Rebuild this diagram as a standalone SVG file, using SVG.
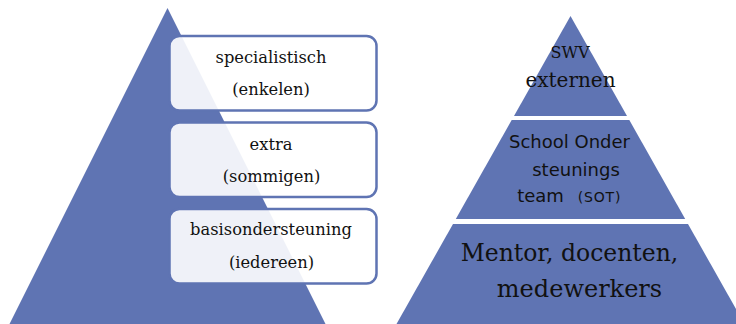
<svg xmlns="http://www.w3.org/2000/svg" width="736" height="324" viewBox="0 0 736 324">
<style>
.py{fill:#5f74b3}
.box{fill:#ffffff;fill-opacity:0.9;stroke:#5f74b3;stroke-width:2.5}
.t{font-family:"DejaVu Serif","Liberation Serif",serif;fill:#111;text-anchor:middle}
.s{font-family:"DejaVu Sans","Liberation Sans",sans-serif;fill:#111;text-anchor:middle}
</style>
<rect width="736" height="324" fill="#ffffff"/>
<g id="left-pyramid">
<polygon class="py" points="167.5,8 9.5,324 325.5,324"/>
</g>
<g id="connectors"></g>
<g id="box-specialistisch">
<rect class="box" x="169.5" y="36" width="207" height="74.5" rx="10"/>
<text class="t" x="271" y="63" font-size="16.3">specialistisch</text>
<text class="t" x="271" y="95" font-size="16.3">(enkelen)</text>
</g>
<g id="box-extra">
<rect class="box" x="169.5" y="122.5" width="207" height="74.5" rx="10"/>
<text class="t" x="271" y="149.5" font-size="16.3">extra</text>
<text class="t" x="271.5" y="182" font-size="16.3">(sommigen)</text>
</g>
<g id="box-basis">
<rect class="box" x="169.5" y="209" width="207" height="74.5" rx="10"/>
<text class="t" x="271" y="235" font-size="16.3">basisondersteuning</text>
<text class="t" x="271.5" y="267.5" font-size="16.3">(iedereen)</text>
</g>
<g id="layer-swv">
<polygon class="py" points="570.5,16 514,116 627,116"/>
<text class="t" x="570" y="58" font-size="16">SWV</text>
<text class="t" x="570.5" y="87" font-size="20">externen</text>
</g>
<g id="layer-sot">
<polygon class="py" points="511.7,120 629.3,120 685.2,219 455.8,219"/>
<text class="s" x="569.5" y="148" font-size="18">School Onder</text>
<text class="s" x="576" y="176" font-size="18">steunings</text>
<text class="s" x="540.5" y="202" font-size="18">team</text>
<text class="s" x="599.5" y="202" font-size="14" letter-spacing="0.8">(SOT)</text>
</g>
<g id="layer-mentor">
<polygon class="py" points="453,224 688,224 744.5,324 396.5,324"/>
<text class="t" x="569.5" y="261" font-size="23.5">Mentor, docenten,</text>
<text class="t" x="579.5" y="297" font-size="24">medewerkers</text>
</g>
</svg>
